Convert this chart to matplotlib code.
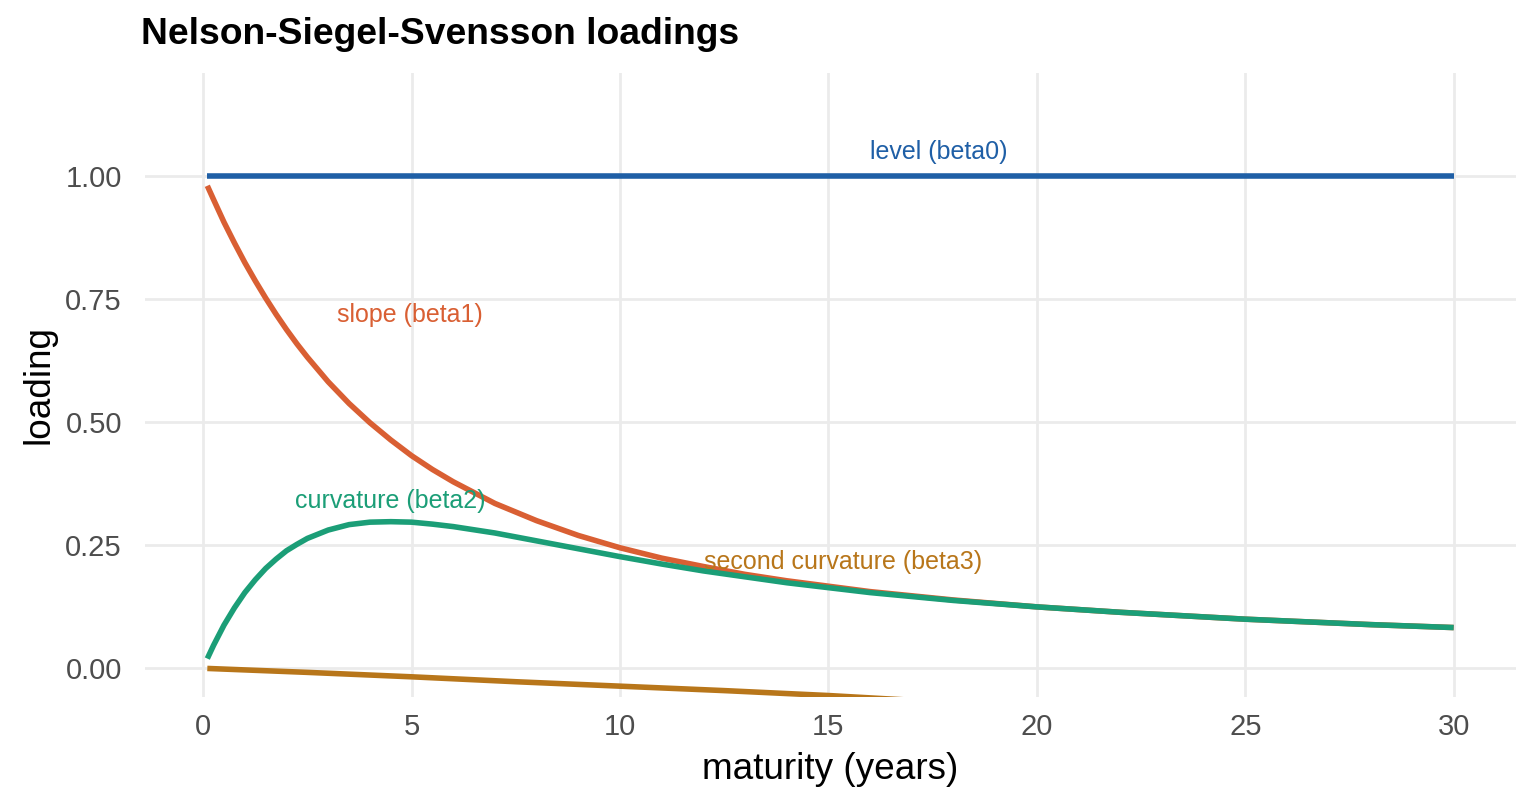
import numpy as np
import matplotlib
matplotlib.use("Agg")
import matplotlib.pyplot as plt

plt.rcParams['font.family'] = ['Liberation Sans', 'DejaVu Sans']

# Valores (madurez en años)
madurez = [0.1, 0.25, 0.5, 0.75, 1, 1.25, 1.5, 1.75, 2, 2.25, 2.5, 3, 3.5, 4, 4.5, 5,
           5.5, 6, 7, 8, 9, 10, 11, 12, 13, 14, 16, 18, 20, 22, 25, 28, 30]
nivel = [1.0] * len(madurez)
pendiente = [0.980, 0.952, 0.906, 0.864, 0.824, 0.787, 0.752, 0.719, 0.688, 0.659,
             0.632, 0.582, 0.538, 0.499, 0.464, 0.432,
             0.404, 0.379, 0.335, 0.300, 0.270, 0.245, 0.224, 0.207, 0.191, 0.178,
             0.156, 0.139, 0.125, 0.114, 0.100, 0.089, 0.083]
curvatura = [0.020, 0.047, 0.088, 0.123, 0.154, 0.180, 0.203, 0.222, 0.239, 0.252,
             0.264, 0.281, 0.292, 0.297, 0.298, 0.297,
             0.293, 0.288, 0.275, 0.259, 0.243, 0.227, 0.212, 0.198, 0.186, 0.174,
             0.154, 0.138, 0.125, 0.114, 0.100, 0.089, 0.083]
madurez_b3 = [0.1, 2.5, 5, 7.5, 10, 12.5, 15, 17.5, 20]
curvatura2 = [0.000, -0.008, -0.017, -0.027, -0.036, -0.045, -0.055, -0.067, -0.076]

series = ["level (beta0)", "slope (beta1)", "curvature (beta2)", "second curvature (beta3)"]
colores = ["#1f5fa6", "#d95f33", "#1b9e77", "#b8761a"]
pos_etiquetas = [(17.65, 1.049), (4.96, 0.717), (4.48, 0.339), (15.35, 0.217)]

fig = plt.figure(figsize=(7.68, 4.03), dpi=200)
ax = fig.add_axes([145 / 1536, 1 - 697 / 806, (1516 - 145) / 1536, (697 - 73) / 806])

lw = 2.0
ax.plot(madurez, nivel, color=colores[0], lw=lw, solid_capstyle='butt')
ax.plot(madurez, pendiente, color=colores[1], lw=lw, solid_capstyle='butt')
ax.plot(madurez, curvatura, color=colores[2], lw=lw, solid_capstyle='butt')
ax.plot(madurez_b3, curvatura2, color=colores[3], lw=lw, solid_capstyle='butt')

for nombre, color, (x, y) in zip(series, colores, pos_etiquetas):
    ax.text(x, y, nombre, color=color, fontsize=9.0, ha='center', va='center')

ax.set_xlim(-1.395, 31.495)
ax.set_ylim(-0.058, 1.209)
ax.set_xticks([0, 5, 10, 15, 20, 25, 30])
ax.set_yticks([0, 0.25, 0.5, 0.75, 1.0])
ax.set_yticklabels(["0.00", "0.25", "0.50", "0.75", "1.00"])
ax.grid(True, color="#ebebeb", lw=1.0)
ax.set_axisbelow(True)
for s in ax.spines.values():
    s.set_visible(False)
ax.tick_params(length=0, labelsize=10.5, labelcolor="#4d4d4d")
ax.tick_params(axis='y', pad=8.3)
ax.tick_params(axis='x', pad=5.8)

ax.set_xlabel("maturity (years)", fontsize=13.3, labelpad=4)
ax.set_ylabel("loading", fontsize=13.3, labelpad=3)
fig.text(141 / 1536, 1 - 34 / 806, "Nelson-Siegel-Svensson loadings",
         fontsize=13.4, fontweight='bold', ha='left', va='center')

fig.savefig("out.png", dpi=200)
